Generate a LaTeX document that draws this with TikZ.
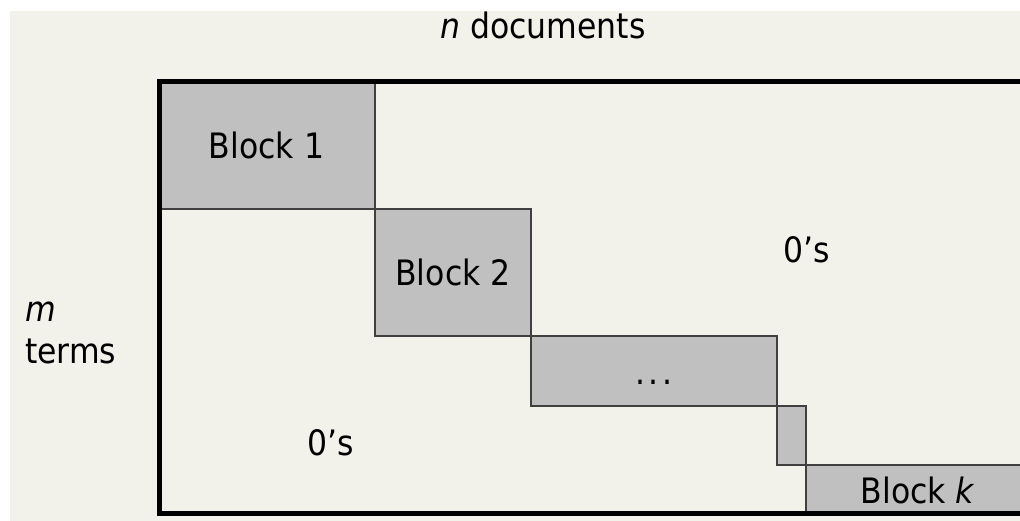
\documentclass[tikz,border=0pt]{standalone}
\usepackage{fontspec}
\setmainfont{DejaVu Sans}[FakeStretch=0.9]
\definecolor{bgbeige}{HTML}{F2F1EA}
\definecolor{blockgray}{HTML}{C0C0C0}
\definecolor{edgegray}{HTML}{404040}
\tikzset{
  blockbox/.style={draw=edgegray, line width=1.2pt, fill=blockgray, anchor=north west,
    inner sep=0pt, outer sep=0pt, text height=0.75em, text depth=0pt},
  lbl/.style={inner sep=0pt, outer sep=0pt},
  frame/.style={draw=black, line width=5pt}
}
\begin{document}
\begin{tikzpicture}[x=1pt,y=-1pt]
\useasboundingbox (0,0) rectangle (1020,521);
\clip (0,0) rectangle (1020,521);
\fill[bgbeige] (10,11) rectangle (1020,521);
\fontsize{35}{42}\selectfont
% blocks
\node[blockbox, minimum width=217pt, minimum height=127pt] (b1) at (158,82) {Block 1};
\node[blockbox, minimum width=156pt, minimum height=127pt] (b2) at (b1.south east) {Block 2};
\node[blockbox, minimum width=246pt, minimum height=70pt] (b3) at (b2.south east) {.\kern3pt.\kern3pt.};
\node[blockbox, minimum width=29pt, minimum height=59pt] (b4) at (b3.south east) {};
\node[blockbox, minimum width=224pt, minimum height=50pt] (bk) at (b4.south east) {Block \textit{k}};
% outer frame
\coordinate (tl) at (159.5,82);
\coordinate (br) at (1040,513.5);
\draw[frame] (tl) rectangle (br);
% labels
\node[lbl, anchor=base] (ndoc) at (543,39) {\textit{n} documents};
\node[lbl, anchor=base west] (mlab) at (25,321) {\textit{m}};
\node[lbl, anchor=base west] (terms) at (25,363) {terms};
\node[lbl, anchor=base] (zu) at (807,263) {0’s};
\node[lbl, anchor=base] (zl) at (331,455) {0’s};
\end{tikzpicture}
\end{document}
